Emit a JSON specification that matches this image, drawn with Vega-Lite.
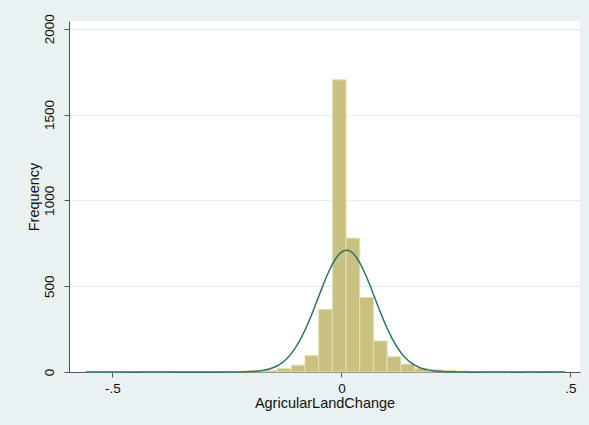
{
  "$schema": "https://vega.github.io/schema/vega-lite/v6.json",
  "width": 511,
  "height": 351,
  "autosize": {"type": "none"},
  "padding": {"left": 69, "top": 21, "right": 9, "bottom": 53},
  "background": "#e9f1f2",
  "config": {
    "view": {"fill": "#ffffff", "stroke": null},
    "font": "Liberation Sans",
    "axis": {
      "domainColor": "#555555",
      "tickColor": "#555555",
      "tickSize": 5,
      "labelFont": "Liberation Sans",
      "titleFont": "Liberation Sans",
      "labelFontSize": 13.5,
      "titleFontSize": 14.5,
      "titleFontWeight": "normal",
      "labelColor": "#111111",
      "titleColor": "#111111",
      "gridColor": "#e4eef0",
      "gridWidth": 1
    }
  },
  "datasets": {
    "bars": [
      {"start": -0.558, "end": -0.5281, "count": 3},
      {"start": -0.5281, "end": -0.4982, "count": 3},
      {"start": -0.4982, "end": -0.4683, "count": 3},
      {"start": -0.4384, "end": -0.4085, "count": 3},
      {"start": -0.4085, "end": -0.3786, "count": 3},
      {"start": -0.259, "end": -0.2291, "count": 3},
      {"start": -0.2291, "end": -0.1992, "count": 4},
      {"start": -0.1992, "end": -0.1693, "count": 8},
      {"start": -0.1693, "end": -0.1394, "count": 10},
      {"start": -0.1394, "end": -0.1095, "count": 20},
      {"start": -0.1095, "end": -0.0796, "count": 40},
      {"start": -0.0796, "end": -0.0497, "count": 97},
      {"start": -0.0497, "end": -0.0198, "count": 364},
      {"start": -0.0198, "end": 0.0101, "count": 1702},
      {"start": 0.0101, "end": 0.04, "count": 780},
      {"start": 0.04, "end": 0.0699, "count": 434},
      {"start": 0.0699, "end": 0.0998, "count": 181},
      {"start": 0.0998, "end": 0.1297, "count": 89},
      {"start": 0.1297, "end": 0.1596, "count": 46},
      {"start": 0.1596, "end": 0.1895, "count": 20},
      {"start": 0.1895, "end": 0.2194, "count": 13},
      {"start": 0.2194, "end": 0.2493, "count": 10},
      {"start": 0.2493, "end": 0.2792, "count": 6},
      {"start": 0.3091, "end": 0.339, "count": 3},
      {"start": 0.339, "end": 0.3689, "count": 3},
      {"start": 0.3988, "end": 0.4287, "count": 3},
      {"start": 0.4586, "end": 0.4885, "count": 3}
    ],
    "curve": [
      {"x": -0.558, "d": 0},
      {"x": -0.3, "d": 0},
      {"x": -0.25, "d": 0.1},
      {"x": -0.22, "d": 0.7},
      {"x": -0.2, "d": 2.2},
      {"x": -0.18, "d": 6.2},
      {"x": -0.17, "d": 10.0},
      {"x": -0.16, "d": 15.8},
      {"x": -0.15, "d": 24.4},
      {"x": -0.14, "d": 36.6},
      {"x": -0.13, "d": 53.5},
      {"x": -0.12, "d": 76.2},
      {"x": -0.11, "d": 105.7},
      {"x": -0.1, "d": 143.0},
      {"x": -0.09, "d": 188.4},
      {"x": -0.08, "d": 241.8},
      {"x": -0.07, "d": 302.5},
      {"x": -0.06, "d": 368.6},
      {"x": -0.05, "d": 437.6},
      {"x": -0.04, "d": 506.2},
      {"x": -0.03, "d": 570.6},
      {"x": -0.02, "d": 626.6},
      {"x": -0.01, "d": 670.4},
      {"x": 0.0, "d": 698.9},
      {"x": 0.01, "d": 709.9},
      {"x": 0.02, "d": 702.6},
      {"x": 0.03, "d": 677.4},
      {"x": 0.04, "d": 636.4},
      {"x": 0.05, "d": 582.6},
      {"x": 0.06, "d": 519.6},
      {"x": 0.07, "d": 451.5},
      {"x": 0.08, "d": 382.2},
      {"x": 0.09, "d": 315.3},
      {"x": 0.1, "d": 253.4},
      {"x": 0.11, "d": 198.5},
      {"x": 0.12, "d": 151.4},
      {"x": 0.13, "d": 112.5},
      {"x": 0.14, "d": 81.5},
      {"x": 0.15, "d": 57.5},
      {"x": 0.16, "d": 39.5},
      {"x": 0.17, "d": 26.5},
      {"x": 0.18, "d": 17.3},
      {"x": 0.19, "d": 11.0},
      {"x": 0.2, "d": 6.8},
      {"x": 0.22, "d": 2.4},
      {"x": 0.24, "d": 0.8},
      {"x": 0.26, "d": 0.2},
      {"x": 0.3, "d": 0},
      {"x": 0.4885, "d": 0}
    ]
  },
  "layer": [
    {
      "data": {"name": "bars"},
      "mark": {"type": "rect", "fill": "#c9c180", "stroke": "#e3dfb3", "strokeWidth": 1},
      "encoding": {
        "x": {
          "field": "start",
          "type": "quantitative",
          "scale": {"domain": [-0.595, 0.521], "nice": false, "zero": false},
          "axis": {
            "values": [-0.5, 0, 0.5],
            "labelExpr": "datum.value == 0 ? '0' : replace(toString(datum.value), '0.', '.')",
            "title": "AgricularLandChange",
            "grid": false,
            "labelPadding": 4,
            "titlePadding": 2
          }
        },
        "x2": {"field": "end"},
        "y": {
          "field": "count",
          "type": "quantitative",
          "scale": {"domain": [0, 2045], "nice": false},
          "axis": {
            "values": [0, 500, 1000, 1500, 2000],
            "format": "d",
            "title": "Frequency",
            "labelAngle": -90,
            "labelPadding": 8,
            "titlePadding": 1,
            "grid": true
          }
        },
        "y2": {"datum": 0}
      }
    },
    {
      "data": {"name": "curve"},
      "mark": {"type": "line", "color": "#2d7371", "strokeWidth": 1.5, "interpolate": "monotone"},
      "encoding": {
        "x": {"field": "x", "type": "quantitative"},
        "y": {"field": "d", "type": "quantitative"}
      }
    }
  ]
}
